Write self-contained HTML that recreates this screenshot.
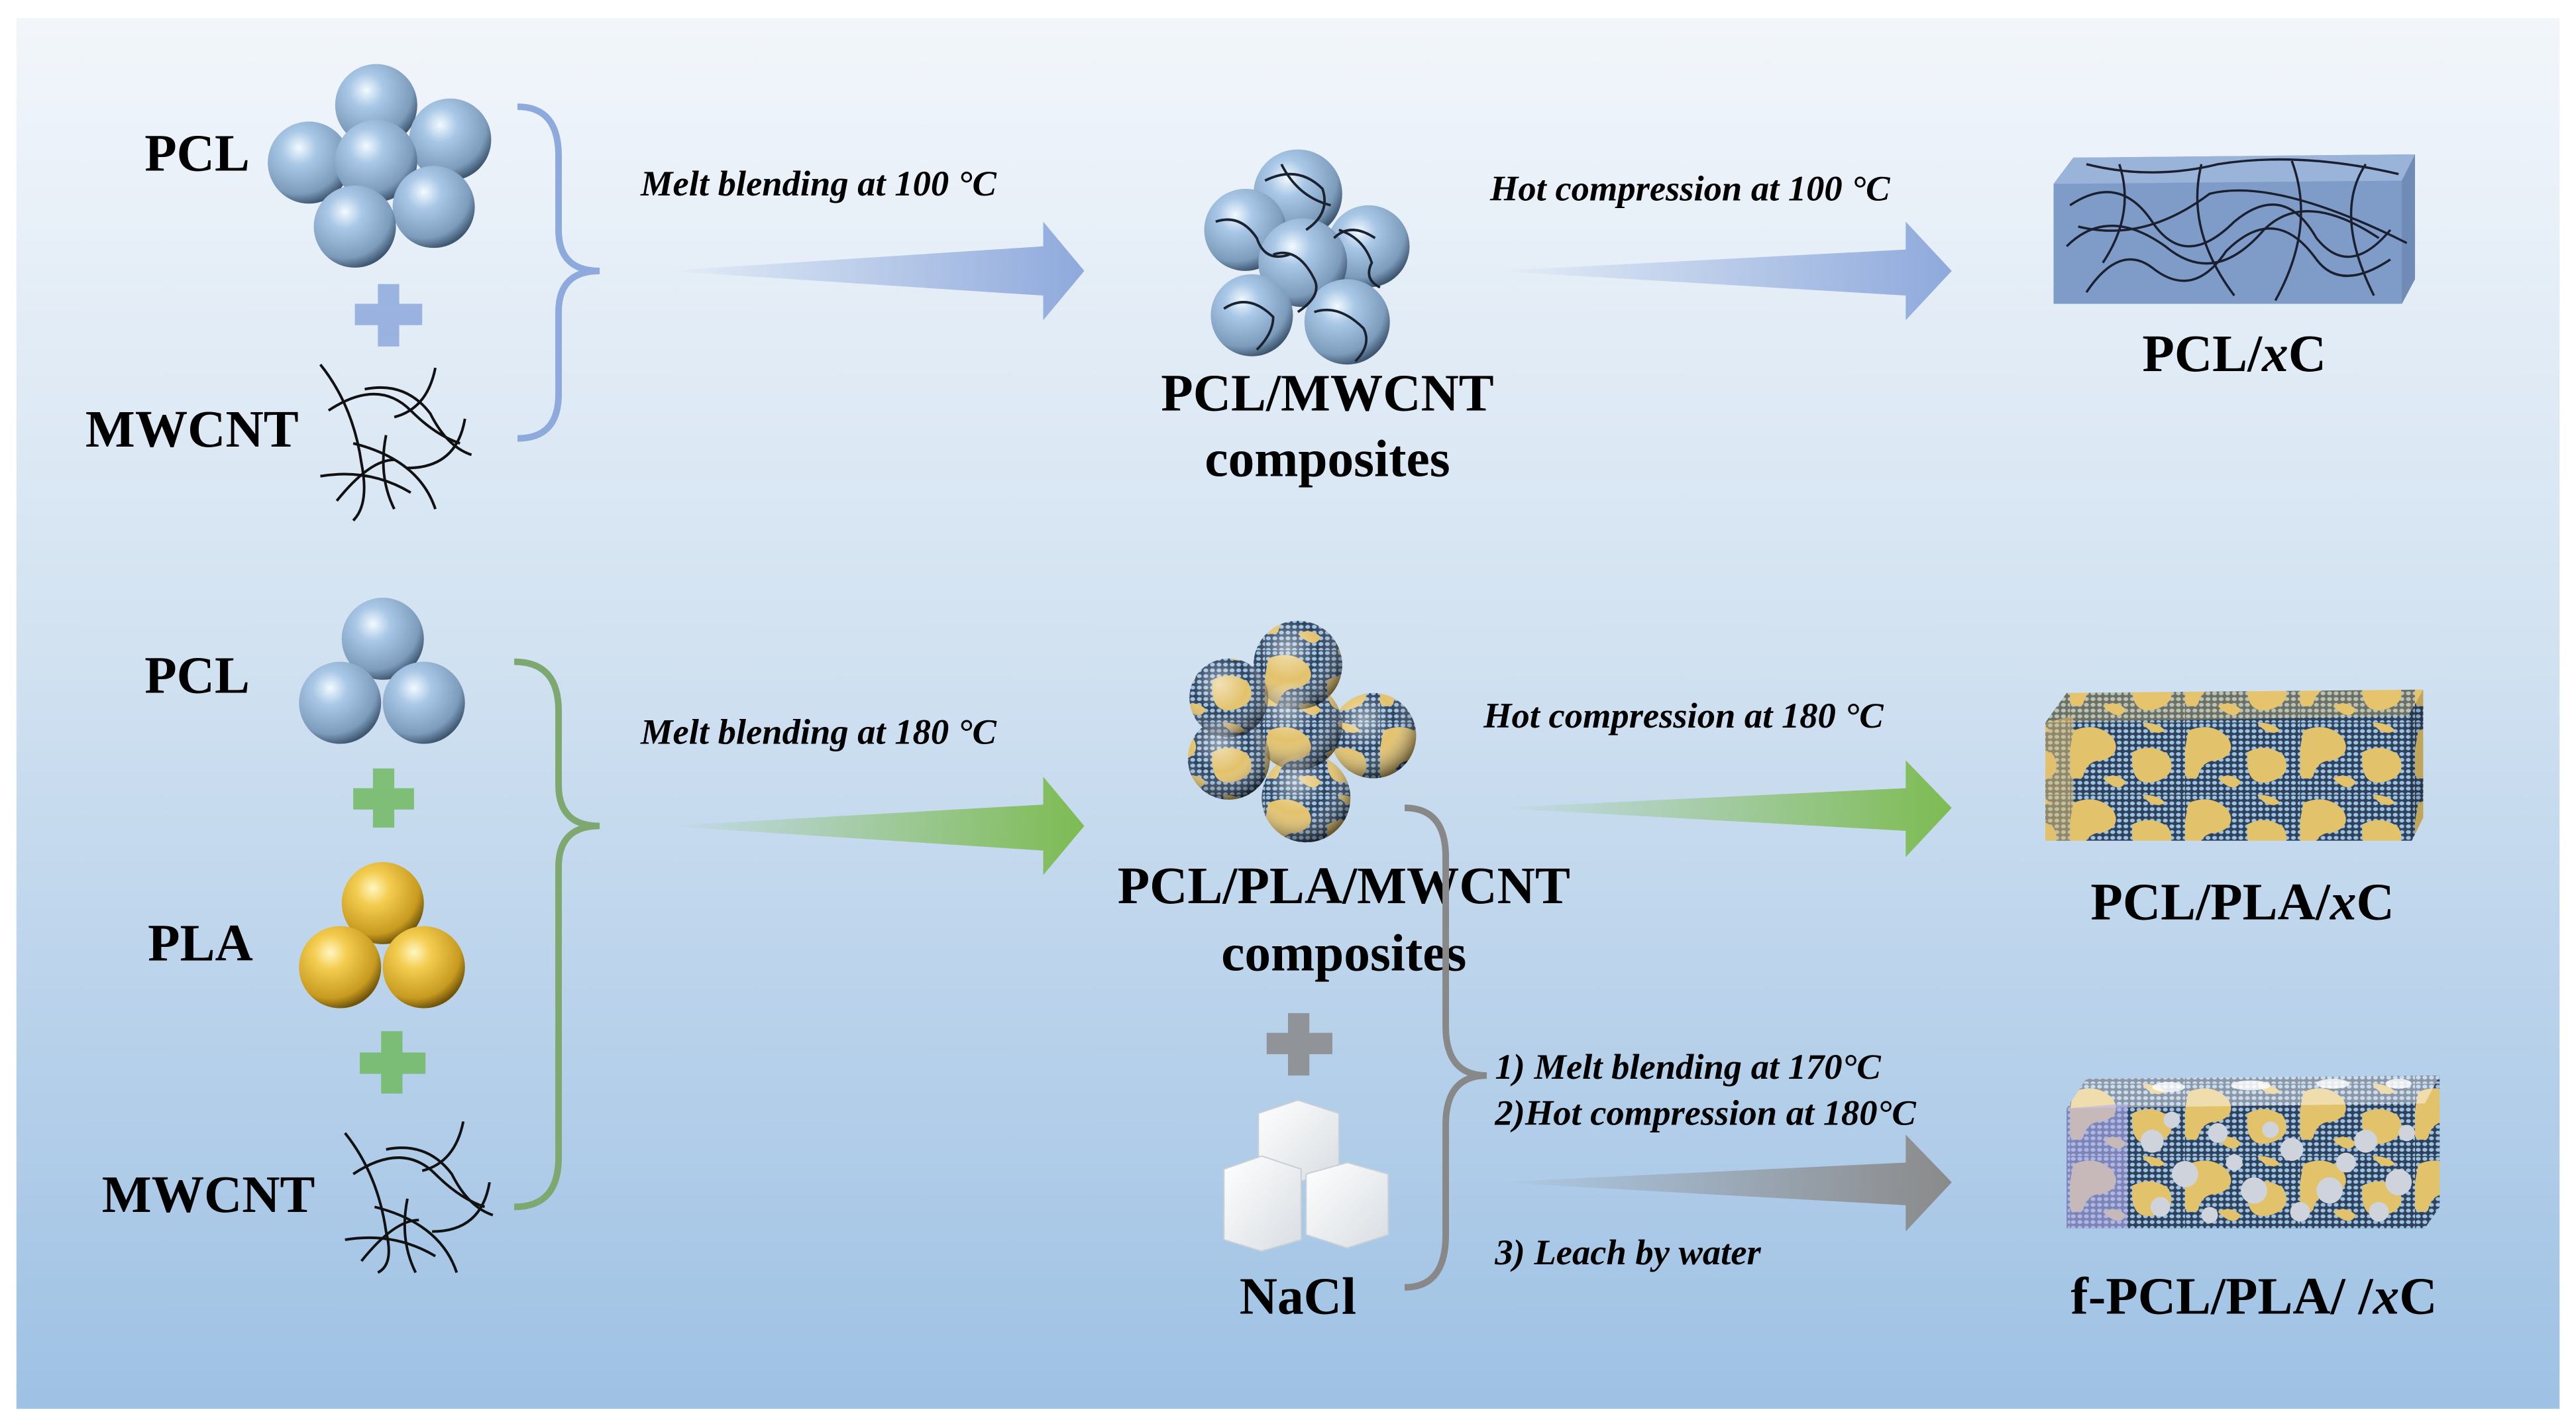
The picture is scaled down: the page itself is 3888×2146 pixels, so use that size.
<!DOCTYPE html>
<html><head><meta charset="utf-8"><style>
html,body{margin:0;padding:0;background:#fff}
svg{display:block}
text{font-family:"Liberation Serif",serif;font-weight:bold;fill:#000}
.b{font-size:32px}
.i{font-size:22px;font-style:italic}
</style></head><body>
<svg width="3888" height="2146" viewBox="0 0 1568 866" preserveAspectRatio="none" xmlns="http://www.w3.org/2000/svg">
<defs>
<linearGradient id="bg" x1="0" y1="0" x2="0" y2="1">
<stop offset="0" stop-color="#f2f6fb"/><stop offset="0.45" stop-color="#d2e2f1"/><stop offset="1" stop-color="#9ec1e4"/>
</linearGradient>
<radialGradient id="sb" cx="0.38" cy="0.32" r="0.7">
<stop offset="0" stop-color="#f2faff"/><stop offset="0.3" stop-color="#a9c7e6"/><stop offset="0.8" stop-color="#7d9cbc"/><stop offset="1" stop-color="#3e5670"/>
</radialGradient>
<radialGradient id="sg" cx="0.38" cy="0.32" r="0.7">
<stop offset="0" stop-color="#fff6c0"/><stop offset="0.3" stop-color="#f3cc4e"/><stop offset="0.8" stop-color="#c79a20"/><stop offset="1" stop-color="#6e5208"/>
</radialGradient>
<radialGradient id="shade" cx="0.38" cy="0.32" r="0.7">
<stop offset="0" stop-color="#fff" stop-opacity="0.5"/><stop offset="0.5" stop-color="#fff" stop-opacity="0"/><stop offset="1" stop-color="#000" stop-opacity="0.55"/>
</radialGradient>
<pattern id="cells" width="4" height="3.5" patternUnits="userSpaceOnUse">
<rect width="4" height="3.5" fill="#2f405a"/>
<ellipse cx="2" cy="1.75" rx="1.5" ry="1.2" fill="#9cc4e4"/>
</pattern>
<pattern id="mix" width="70" height="44" patternUnits="userSpaceOnUse">
<rect width="70" height="44" fill="url(#cells)"/>
<path d="M2,5 q14,-6 24,4 q6,10 -6,14 q-10,0 -12,10 q-8,4 -10,-6z M38,18 q12,-6 22,2 q6,12 -8,16 q-16,4 -14,-18z M44,0 q10,0 14,5 q-8,4 -14,-5z M20,34 q8,-4 14,2 q-4,8 -14,-2z" fill="#e3c26c"/>
</pattern>
<linearGradient id="ab" x1="0" x2="1"><stop offset="0" stop-color="#8ea9dc" stop-opacity="0"/><stop offset="1" stop-color="#8ea9dc"/></linearGradient>
<linearGradient id="ag" x1="0" x2="1"><stop offset="0" stop-color="#7dbb52" stop-opacity="0"/><stop offset="1" stop-color="#7dbb52"/></linearGradient>
<linearGradient id="ay" x1="0" x2="1"><stop offset="0" stop-color="#8a8a8a" stop-opacity="0"/><stop offset="1" stop-color="#8a8a8a"/></linearGradient>
<linearGradient id="cube" x1="0" y1="0" x2="1" y2="1"><stop offset="0" stop-color="#fff"/><stop offset="1" stop-color="#d8dde2"/></linearGradient>
</defs>
<rect width="1568" height="866" fill="#fff"/>
<rect x="10" y="11" width="1548" height="847" fill="url(#bg)"/>

<!-- top row -->
<text class="b" x="88" y="104">PCL</text>
<g>
<circle cx="229" cy="64" r="25" fill="url(#sb)"/>
<circle cx="274" cy="85" r="25" fill="url(#sb)"/>
<circle cx="188" cy="99" r="25" fill="url(#sb)"/>
<circle cx="229" cy="98" r="25" fill="url(#sb)"/>
<circle cx="264" cy="126" r="25" fill="url(#sb)"/>
<circle cx="216" cy="138" r="25" fill="url(#sb)"/>
</g>
<g fill="#8ea9dc" opacity="0.85"><rect x="230" y="173" width="13" height="38"/><rect x="216" y="185" width="41" height="13"/></g>
<text class="b" x="52" y="272">MWCNT</text>
<g fill="none" stroke="#111" stroke-width="1.6">
<path d="M195,222 q20,25 25,60 q5,25 -5,35"/><path d="M200,250 q30,-20 50,0 q15,15 30,20"/>
<path d="M222,237 q25,-5 40,15 q10,20 25,25"/><path d="M265,224 q-5,25 -25,30"/>
<path d="M283,255 q-5,30 -35,30"/><path d="M195,290 q30,-5 55,10"/><path d="M215,270 q40,10 50,40"/>
<path d="M235,265 q-5,25 5,45"/><path d="M205,305 q20,-25 35,-25"/>
</g>
<path d="M315,65 Q340,65 340,95 L340,140 Q340,165 365,165 Q340,165 340,190 L340,240 Q340,267 315,267" fill="none" stroke="#8ea9dc" stroke-width="4"/>
<text class="i" x="390" y="119">Melt blending at 100 °C</text>
<polygon points="405,165 635,150 635,135 660,165 635,195 635,180" fill="url(#ab)"/>

<g>
<circle cx="790" cy="118" r="27" fill="url(#sb)"/>
<circle cx="758" cy="140" r="25" fill="url(#sb)"/>
<circle cx="833" cy="150" r="25" fill="url(#sb)"/>
<circle cx="793" cy="160" r="27" fill="url(#sb)"/>
<circle cx="762" cy="192" r="25" fill="url(#sb)"/>
<circle cx="820" cy="196" r="26" fill="url(#sb)"/>
<g fill="none" stroke="#1a2230" stroke-width="1.5">
<path d="M770,110 q20,-10 35,5 q5,15 -10,25"/><path d="M780,100 q10,20 30,25"/>
<path d="M740,135 q15,-5 25,10 q5,15 20,10"/><path d="M815,140 q15,5 20,20 q-5,10 5,15"/>
<path d="M775,155 q15,-5 25,15 q5,10 -10,20"/><path d="M745,188 q15,-10 30,5 q0,10 -10,20"/>
<path d="M800,190 q15,-5 30,10 q5,10 -5,20"/><path d="M812,145 q10,-10 25,0"/>
</g>
</g>
<text class="b" x="808" y="250" text-anchor="middle">PCL/MWCNT</text>
<text class="b" x="808" y="290" text-anchor="middle">composites</text>
<text class="i" x="907" y="122">Hot compression at 100 °C</text>
<polygon points="910,165 1160,152 1160,135 1188,165 1160,195 1160,180" fill="url(#ab)"/>

<!-- block 1 -->
<polygon points="1250,112 1262,96 1470,94 1470,170 1462,185 1250,185" fill="#7f9cc8"/>
<polygon points="1250,112 1262,96 1470,94 1462,110" fill="#9ab3d8"/>
<polygon points="1462,110 1470,94 1470,170 1462,185" fill="#6f8bb6"/>
<g fill="none" stroke="#1a2030" stroke-width="1.4">
<path d="M1260,125 q30,-20 50,10 q20,30 50,0 q30,-25 50,10 q20,25 45,-5"/>
<path d="M1258,150 q25,-25 60,0 q30,25 60,-10 q25,-25 70,5"/>
<path d="M1270,178 q20,-30 40,-15 q25,20 45,-10 q30,-30 55,5 q15,20 45,0"/>
<path d="M1290,100 q10,30 -10,60 M1340,100 q-10,40 20,80 M1395,98 q15,40 -10,85 M1440,100 q-20,30 5,80"/>
<path d="M1265,138 q40,10 80,-20 q40,-10 120,30"/>
<path d="M1270,100 q40,10 80,0 q50,-8 110,6"/>
</g>
<text class="b" x="1360" y="226" text-anchor="middle">PCL/<tspan font-style="italic">x</tspan>C</text>

<!-- bottom row -->
<text class="b" x="88" y="422">PCL</text>
<circle cx="233" cy="389" r="25" fill="url(#sb)"/>
<circle cx="207" cy="428" r="25" fill="url(#sb)"/>
<circle cx="258" cy="428" r="25" fill="url(#sb)"/>
<g fill="#6db85a" opacity="0.8"><rect x="227" y="468" width="13" height="36"/><rect x="215" y="480" width="37" height="13"/></g>
<text class="b" x="90" y="585">PLA</text>
<circle cx="233" cy="550" r="25" fill="url(#sg)"/>
<circle cx="207" cy="589" r="25" fill="url(#sg)"/>
<circle cx="258" cy="589" r="25" fill="url(#sg)"/>
<g fill="#6db85a" opacity="0.8"><rect x="232" y="628" width="13" height="38"/><rect x="219" y="641" width="40" height="13"/></g>
<text class="b" x="62" y="738">MWCNT</text>
<g fill="none" stroke="#111" stroke-width="1.6">
<path d="M210,690 q20,25 25,60 q5,20 -5,25"/><path d="M215,715 q30,-20 50,0 q15,15 30,20"/>
<path d="M235,700 q25,-5 40,15 q10,20 25,25"/><path d="M282,683 q-5,25 -25,30"/>
<path d="M298,720 q-5,30 -35,30"/><path d="M210,755 q30,-5 55,10"/><path d="M228,735 q40,10 50,40"/>
<path d="M248,730 q-5,25 5,45"/><path d="M220,768 q20,-25 35,-25"/>
</g>
<path d="M313,403 Q340,403 340,433 L340,478 Q340,503 365,503 Q340,503 340,528 L340,705 Q340,735 313,735" fill="none" stroke="#7ea870" stroke-width="4"/>
<text class="i" x="390" y="453">Melt blending at 180 °C</text>
<polygon points="405,503 635,490 635,473 660,503 635,533 635,518" fill="url(#ag)"/>

<g>
<circle cx="790" cy="405" r="27" fill="url(#mix)"/>
<circle cx="748" cy="425" r="24" fill="url(#mix)"/>
<circle cx="836" cy="448" r="26" fill="url(#mix)"/>
<circle cx="790" cy="442" r="27" fill="url(#mix)"/>
<circle cx="748" cy="462" r="25" fill="url(#mix)"/>
<circle cx="795" cy="486" r="27" fill="url(#mix)"/>
<circle cx="790" cy="405" r="27" fill="url(#shade)"/>
<circle cx="748" cy="425" r="24" fill="url(#shade)"/>
<circle cx="836" cy="448" r="26" fill="url(#shade)"/>
<circle cx="790" cy="442" r="27" fill="url(#shade)"/>
<circle cx="748" cy="462" r="25" fill="url(#shade)"/>
<circle cx="795" cy="486" r="27" fill="url(#shade)"/>
</g>
<text class="b" x="818" y="550" text-anchor="middle">PCL/PLA/MWCNT</text>
<text class="b" x="818" y="591" text-anchor="middle">composites</text>
<text class="i" x="903" y="443">Hot compression at 180 °C</text>
<polygon points="910,492 1160,480 1160,463 1188,492 1160,522 1160,506" fill="url(#ag)"/>

<!-- block 2 -->
<polygon points="1245,440 1258,422 1475,420 1475,498 1468,512 1245,512" fill="url(#mix)"/>
<polygon points="1245,440 1258,422 1475,420 1466,436" fill="#e8c870" opacity="0.35"/>
<polygon points="1245,440 1262,436 1262,512 1245,512" fill="#e2c070" opacity="0.55"/>
<polygon points="1466,436 1475,420 1475,498 1468,512" fill="#000" opacity="0.15"/>
<text class="b" x="1365" y="560" text-anchor="middle">PCL/PLA/<tspan font-style="italic">x</tspan>C</text>

<g fill="#8a8a8a" opacity="0.85"><rect x="784" y="617" width="13" height="38"/><rect x="771" y="629" width="40" height="13"/></g>
<!-- NaCl cubes -->
<g stroke="#c9cfd6" stroke-width="0.8">
<polygon points="766,678 790,670 815,678 815,712 790,720 766,712" fill="url(#cube)"/>
<polygon points="745,712 768,704 792,712 792,755 768,762 745,755" fill="url(#cube)"/>
<polygon points="795,715 820,708 845,715 845,752 820,760 795,752" fill="url(#cube)"/>
</g>
<text class="b" x="790" y="800" text-anchor="middle">NaCl</text>
<path d="M855,492 Q880,492 880,522 L880,625 Q880,655 905,655 Q880,655 880,685 L880,752 Q880,784 855,784" fill="none" stroke="#888" stroke-width="4"/>
<text class="i" x="910" y="657">1) Melt blending at 170°C</text>
<text class="i" x="910" y="685">2)Hot compression at 180°C</text>
<text class="i" x="910" y="770">3) Leach by water</text>
<polygon points="910,720 1160,708 1160,691 1188,720 1160,750 1160,734" fill="url(#ay)"/>

<!-- block 3 -->
<polygon points="1258,675 1270,657 1485,655 1485,735 1476,748 1258,748" fill="url(#mix)"/>
<polygon points="1258,675 1270,657 1485,655 1476,672" fill="#fff" opacity="0.45"/>
<polygon points="1258,675 1295,672 1295,748 1258,748" fill="#b4b0ee" opacity="0.6"/>
<g fill="#cfd4dc">
<circle cx="1310" cy="695" r="7"/><circle cx="1330" cy="715" r="8"/><circle cx="1350" cy="690" r="6"/><circle cx="1372" cy="725" r="8"/>
<circle cx="1395" cy="700" r="7"/><circle cx="1418" cy="725" r="8"/><circle cx="1440" cy="695" r="7"/><circle cx="1460" cy="720" r="8"/>
<circle cx="1315" cy="735" r="6"/><circle cx="1400" cy="738" r="6"/><circle cx="1465" cy="690" r="5"/><circle cx="1345" cy="740" r="5"/>
<circle cx="1322" cy="682" r="5"/><circle cx="1382" cy="688" r="5"/><circle cx="1428" cy="708" r="6"/><circle cx="1448" cy="738" r="6"/><circle cx="1360" cy="708" r="5"/>
</g>
<g fill="#fff" opacity="0.8">
<ellipse cx="1320" cy="662" rx="10" ry="3"/><ellipse cx="1370" cy="661" rx="12" ry="3"/><ellipse cx="1420" cy="660" rx="10" ry="3"/><ellipse cx="1460" cy="660" rx="8" ry="3"/>
</g>
<text class="b" x="1372" y="800" text-anchor="middle">f-PCL/PLA/ /<tspan font-style="italic">x</tspan>C</text>
</svg>
</body></html>
